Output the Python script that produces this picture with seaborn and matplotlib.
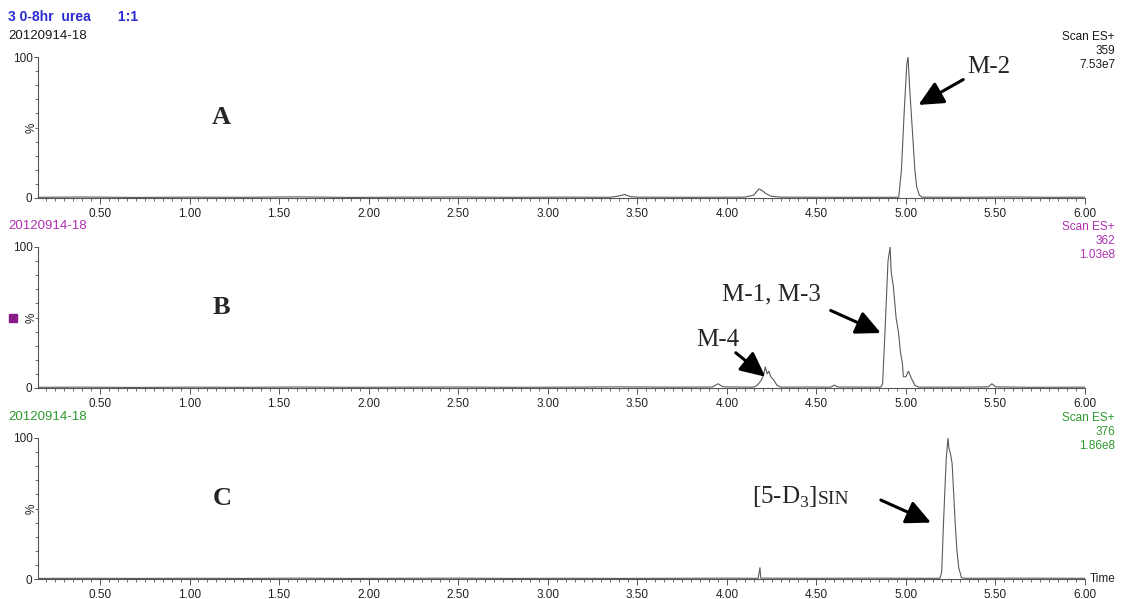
import matplotlib
matplotlib.use("Agg")
import matplotlib.pyplot as plt
import seaborn as sns
from matplotlib.ticker import MultipleLocator, FixedLocator

sns.set_style("white")
plt.rcParams["font.family"] = ["Liberation Sans", "DejaVu Sans"]
plt.rcParams["mathtext.fontset"] = "custom"
plt.rcParams["mathtext.rm"] = "Liberation Serif"

# trace A: m/z 359
time_a = [0.15, 0.40, 0.70, 1.00, 1.30, 1.60, 1.90, 2.20, 2.50, 2.80, 3.10, 3.35, 3.40, 3.43, 3.46, 3.50,
          3.80, 4.10, 4.15, 4.18, 4.20, 4.22, 4.25, 4.30, 4.60, 4.96, 4.975, 4.99, 5.005, 5.012,
          5.02, 5.03, 5.04, 5.05, 5.06, 5.075, 5.09, 5.30, 5.60, 5.80, 6.00]
int_a = [0.5, 0.7, 0.4, 0.6, 0.5, 0.8, 0.4, 0.6, 0.7, 0.5, 0.6, 0.5, 1.5, 2.5, 1.0, 0.6,
         0.5, 0.6, 2.0, 6.5, 5.0, 3.0, 1.2, 0.6, 0.5, 0.5, 20, 60, 95, 100,
         80, 60, 40, 20, 8, 2, 0.6, 0.5, 0.7, 0.5, 0.6]

# trace B: m/z 362
time_b = [0.15, 0.40, 0.70, 1.00, 1.30, 1.60, 1.90, 2.20, 2.50, 2.80, 3.10, 3.40, 3.70, 3.92, 3.95, 3.98,
          4.15, 4.17, 4.19, 4.205, 4.215, 4.225, 4.235, 4.245, 4.26, 4.28, 4.30, 4.45, 4.58, 4.60, 4.62,
          4.86, 4.87, 4.885, 4.90, 4.912, 4.918, 4.93, 4.945, 4.958, 4.97, 4.98, 4.986, 5.00, 5.014,
          5.03, 5.05, 5.07, 5.30, 5.46, 5.48, 5.50, 5.70, 6.00]
int_b = [0.5, 0.6, 0.4, 0.6, 0.5, 0.7, 0.5, 0.6, 0.7, 0.5, 0.6, 0.8, 0.6, 0.7, 3.0, 0.8,
         0.6, 2.0, 5.0, 9.0, 15, 10, 12, 8, 6, 2, 0.6, 0.7, 0.6, 2.0, 0.7,
         0.6, 3.0, 45, 90, 100, 82, 72, 50, 40, 25, 18, 8, 8, 12,
         7, 2, 0.6, 0.6, 0.8, 3.0, 0.8, 0.5, 0.6]

# trace C: m/z 376
time_c = [0.15, 0.40, 0.70, 1.00, 1.30, 1.60, 1.90, 2.20, 2.50, 2.80, 3.10, 3.40, 3.70, 4.00, 4.175, 4.185,
          4.19, 4.50, 4.80, 5.10, 5.19, 5.20, 5.21, 5.225, 5.235, 5.24, 5.25, 5.258, 5.265, 5.275,
          5.285, 5.295, 5.31, 5.33, 5.60, 6.00]
int_c = [0.4, 0.5, 0.4, 0.5, 0.4, 0.6, 0.4, 0.5, 0.6, 0.4, 0.5, 0.4, 0.5, 0.6, 0.5, 8.0,
         0.6, 0.5, 0.6, 0.5, 0.5, 5, 40, 85, 100, 93, 88, 82, 65, 40,
         20, 8, 1, 0.5, 0.6, 0.5]

W, H = 1127, 599
fig = plt.figure(figsize=(W / 100, H / 100), dpi=100)


def fx(x):
    return x / W


def fy(y):
    return 1 - y / H


panels = [
    (time_a, int_a, 57, "20120914-18", "#1a1a1a", ["Scan ES+", "359", "7.53e7"], "#1a1a1a", "A"),
    (time_b, int_b, 247, "20120914-18", "#b030b0", ["Scan ES+", "362", "1.03e8"], "#b030b0", "B"),
    (time_c, int_c, 438, "20120914-18", "#2e9a2e", ["Scan ES+", "376", "1.86e8"], "#2e9a2e", "C"),
]

axes = []
for t, v, top, date, dcol, info, icol, letter in panels:
    ax = fig.add_axes([fx(38), fy(top + 141), fx(1085) - fx(38), 141 / H])
    sns.lineplot(x=t, y=v, ax=ax, color="#5a5a5a", lw=0.8, estimator=None)
    ax.set_xlim(0.154, 6.0)
    ax.set_ylim(0, 100)
    for s in ["top", "right"]:
        ax.spines[s].set_visible(False)
    for s in ["left", "bottom"]:
        ax.spines[s].set_color("#555555")
        ax.spines[s].set_linewidth(0.8)
    ax.xaxis.set_major_locator(FixedLocator([0.5 * i for i in range(1, 13)]))
    ax.xaxis.set_minor_locator(MultipleLocator(0.05))
    ax.set_xticklabels([f"{0.5 * i:.2f}" for i in range(1, 13)])
    ax.yaxis.set_major_locator(FixedLocator([0, 100]))
    ax.yaxis.set_minor_locator(MultipleLocator(10))
    ax.tick_params(axis="both", which="both", direction="out", color="#555555",
                   labelsize=8.5, labelcolor="#222222", bottom=True, left=True)
    ax.tick_params(axis="x", which="major", length=4, width=0.7, pad=3)
    ax.tick_params(axis="x", which="minor", length=2.5, width=0.6)
    ax.tick_params(axis="y", which="major", length=3, width=0.7, pad=1)
    ax.tick_params(axis="y", which="minor", length=2.5, width=0.6)
    ax.set_ylabel("")
    ax.set_xlabel("")
    ax.text(0.0, 0.5, "%", transform=ax.transAxes, rotation=90, fontsize=8.5,
            color="#222222", ha="right", va="center")
    ax.patch.set_alpha(0)
    ax.text(1.18, 57, letter, fontsize=19, fontweight="bold", family="Liberation Serif",
            ha="center", va="center")
    fig.text(fx(8), fy(top - 21), date, color=dcol, fontsize=9.5, va="center")
    for k, line in enumerate(info):
        fig.text(fx(1115), fy(top - 20 + 14 * k), line, color=icol, fontsize=8.5,
                 ha="right", va="center")
    axes.append(ax)

fig.text(fx(8), fy(17), "3 0-8hr  urea       1:1", color="#2a2ad0", fontsize=10,
         fontweight="bold", va="center")
fig.text(fx(1090), fy(579), "Time", fontsize=8.5, color="#222222", va="center")
fig.patches.append(plt.Rectangle((fx(9), fy(322)), 8 / W, 8 / H, color="#8b1a8b",
                                 transform=fig.transFigure, figure=fig))

arrow = dict(arrowstyle="-|>,head_length=0.75,head_width=0.36", color="black", lw=2.2,
             shrinkA=0, shrinkB=0, mutation_scale=20)
serif = dict(fontsize=18, family="Liberation Serif")

axA, axB, axC = axes
axA.text(5.46, 93, "M-2", ha="center", va="center", **serif)
axA.annotate("", xy=(5.07, 66), xytext=(5.32, 84), arrowprops=arrow)

axB.text(4.25, 66, "M-1, M-3", ha="center", va="center", **serif)
axB.annotate("", xy=(4.86, 39), xytext=(4.58, 55), arrowprops=arrow)
axB.text(3.95, 34, "M-4", ha="center", va="center", **serif)
axB.annotate("", xy=(4.215, 8), xytext=(4.05, 25), arrowprops=arrow)

t1 = axC.text(4.14, 53, "[5-D$_3$]", ha="left", va="baseline", **serif)
axC.annotate("SIN", xy=(1, 53), xycoords=(t1, "data"), ha="left", va="baseline",
             fontsize=14, family="Liberation Serif")
axC.annotate("", xy=(5.14, 40), xytext=(4.86, 56), arrowprops=arrow)

fig.savefig("out.png", dpi=100)
